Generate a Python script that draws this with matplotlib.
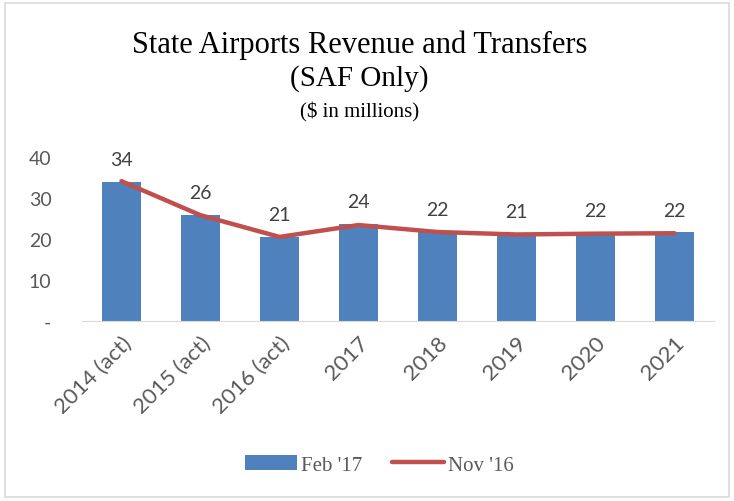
import matplotlib.pyplot as plt
from matplotlib.patches import Rectangle

years = ["2014 (act)", "2015 (act)", "2016 (act)", "2017", "2018", "2019", "2020", "2021"]
feb17 = [33.9, 25.9, 20.6, 23.6, 21.7, 21.2, 21.5, 21.6]
nov16 = [34.1, 25.8, 20.5, 23.4, 21.7, 21.1, 21.3, 21.4]
yticks = [0, 10, 20, 30, 40]
ytick_labels = ["-", "10", "20", "30", "40"]

fig = plt.figure(figsize=(7.34, 5.02), dpi=100)
ax = fig.add_axes([0.1117, 0.3586, 0.8611, 0.3267])

x = range(len(years))
bars = ax.bar(x, feb17, width=0.49, color="#4f81bd", label="Feb '17", zorder=2)
line, = ax.plot(x, nov16, color="#c0504d", linewidth=3.2, solid_capstyle="round", label="Nov '16", zorder=3)

for i, v in enumerate(feb17):
    ax.annotate(str(round(v)), (i, v), xytext=(0, 10), textcoords="offset points",
                ha="center", va="bottom", fontsize=14, family="Lato", color="#404040",
                annotation_clip=False)

ax.set_xlim(-0.5, len(years) - 0.5)
ax.set_ylim(0, 40)
ax.set_yticks(yticks)
ax.set_yticklabels(ytick_labels, fontsize=14, family="Lato", color="#595959")
ax.set_xticks(list(x))
ax.set_xticklabels(years, rotation=45, ha="right", rotation_mode="anchor",
                   fontsize=16, family="Lato", color="#595959")
ax.tick_params(length=0, pad=8)
ax.tick_params(axis="y", pad=22)
for s in ["top", "right", "left"]:
    ax.spines[s].set_visible(False)
ax.spines["bottom"].set_color("#d9d9d9")

fig.text(0.49, 0.91, "State Airports Revenue and Transfers", ha="center", va="center",
         fontsize=22, family="Liberation Serif")
fig.text(0.49, 0.843, "(SAF Only)", ha="center", va="center", fontsize=21, family="Liberation Serif")
fig.text(0.49, 0.775, "($ in millions)", ha="center", va="center", fontsize=15, family="Liberation Serif")

leg = fig.legend([bars, line], ["Feb '17", "Nov '16"], loc="center", bbox_to_anchor=(0.517, 0.072),
                 ncol=2, frameon=False, prop={"family": "Liberation Serif", "size": 15},
                 handlelength=2.5, handletextpad=0.2, columnspacing=1.4)
for t in leg.get_texts():
    t.set_color("#595959")

fig.patches.append(Rectangle((0.007, 0.008), 0.986, 0.984, transform=fig.transFigure,
                             fill=False, edgecolor="#d9d9d9", linewidth=1.2))

fig.savefig("out.png", dpi=100)
